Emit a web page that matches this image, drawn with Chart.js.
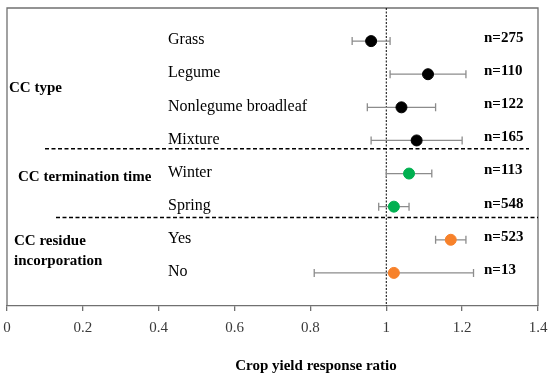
<!DOCTYPE html>
<html>
<head>
<meta charset="utf-8">
<script src="https://cdn.jsdelivr.net/npm/chart.js@4"></script>
<style>
  body { margin: 0; background: #fff; }
</style>
</head>
<body>
<canvas id="chart" width="550" height="379"></canvas>
<script>
// ---- data ----
const categories = ['Grass', 'Legume', 'Nonlegume broadleaf', 'Mixture', 'Winter', 'Spring', 'Yes', 'No'];
const ratios     = [0.96, 1.11, 1.04, 1.08, 1.06, 1.02, 1.17, 1.02];
const lowerCI    = [0.91, 1.01, 0.95, 0.96, 1.00, 0.98, 1.13, 0.81];
const upperCI    = [1.01, 1.21, 1.13, 1.20, 1.12, 1.06, 1.21, 1.23];
const counts     = [275, 110, 122, 165, 113, 548, 523, 13];
const groupOf    = [0, 0, 0, 0, 1, 1, 2, 2];
const groupNames = ['CC type', 'CC termination time', 'CC residue incorporation'];
const xTicks     = [0, 0.2, 0.4, 0.6, 0.8, 1, 1.2, 1.4];

const groupColors = ['#000000', '#00b050', '#f7812a'];
const serif = '"Liberation Serif", "Times New Roman", serif';

// error bars under the points
const errorBars = {
    id: 'errorBars',
    beforeDatasetsDraw(chart) {
        const ctx = chart.ctx, xs = chart.scales.x, ys = chart.scales.y;
        ctx.save();
        ctx.strokeStyle = '#8c8c8c';
        ctx.lineWidth = 1.3;
        categories.forEach((c, i) => {
            const y = ys.getPixelForValue(i);
            const x1 = xs.getPixelForValue(lowerCI[i]);
            const x2 = xs.getPixelForValue(upperCI[i]);
            ctx.beginPath();
            ctx.moveTo(x1, y); ctx.lineTo(x2, y);
            ctx.moveTo(x1, y - 4); ctx.lineTo(x1, y + 4);
            ctx.moveTo(x2, y - 4); ctx.lineTo(x2, y + 4);
            ctx.stroke();
        });
        ctx.restore();
    }
};

// frame, reference line, separators and all the text
const decorations = {
    id: 'decorations',
    beforeDatasetsDraw(chart) {
        const ctx = chart.ctx, a = chart.chartArea, xs = chart.scales.x, ys = chart.scales.y;
        ctx.save();
        // box
        ctx.strokeStyle = '#707070';
        ctx.lineWidth = 1.3;
        ctx.beginPath();
        ctx.moveTo(a.left, a.bottom);
        ctx.lineTo(a.left, a.top);
        ctx.lineTo(a.right, a.top);
        ctx.lineTo(a.right, a.bottom);
        ctx.stroke();

        // dotted line at ratio = 1
        const x1 = xs.getPixelForValue(1);
        ctx.strokeStyle = '#000';
        ctx.lineWidth = 1;
        ctx.setLineDash([2, 1.5]);
        ctx.beginPath();
        ctx.moveTo(x1, a.top); ctx.lineTo(x1, a.bottom);
        ctx.stroke();

        // group separators
        ctx.lineWidth = 1.5;
        ctx.setLineDash([4, 2.5]);
        const sep1 = ys.getPixelForValue(3.25);
        const sep2 = ys.getPixelForValue(5.33);
        ctx.beginPath();
        ctx.moveTo(45, sep1); ctx.lineTo(a.right - 9, sep1);
        ctx.moveTo(56, sep2); ctx.lineTo(a.right, sep2);
        ctx.stroke();
        ctx.restore();
    },
    afterDraw(chart) {
        const ctx = chart.ctx, ys = chart.scales.y;
        ctx.save();
        ctx.fillStyle = '#000';
        ctx.textBaseline = 'middle';
        ctx.textAlign = 'left';

        ctx.font = '16px ' + serif;
        categories.forEach((c, i) => {
            ctx.fillText(c, 168, ys.getPixelForValue(i) - 1);
        });

        ctx.font = 'bold 15px ' + serif;
        counts.forEach((n, i) => {
            ctx.fillText('n=' + n, 484, ys.getPixelForValue(i) - 3);
        });

        ctx.fillText(groupNames[0], 9, ys.getPixelForValue(1.42));
        ctx.fillText(groupNames[1], 18, ys.getPixelForValue(4.12));
        ctx.fillText('CC residue', 14, ys.getPixelForValue(6.03));
        ctx.fillText('incorporation', 14, ys.getPixelForValue(6.63));

        ctx.textAlign = 'center';
        ctx.fillText('Crop yield response ratio', 316, 366);
        ctx.restore();
    }
};

new Chart(document.getElementById('chart'), {
    type: 'scatter',
    data: {
        datasets: [{
            data: ratios.map((r, i) => ({ x: r, y: i })),
            backgroundColor: groupOf.map(g => groupColors[g]),
            borderColor: groupOf.map(g => groupColors[g]),
            pointRadius: 5.5,
            pointHoverRadius: 5.5
        }]
    },
    options: {
        responsive: false,
        animation: false,
        layout: { padding: { left: 7, right: 12, top: 8, bottom: 0 } },
        plugins: {
            legend: { display: false },
            tooltip: { enabled: false }
        },
        scales: {
            x: {
                type: 'linear',
                min: 0,
                max: 1.4,
                afterBuildTicks(scale) {
                    scale.ticks = xTicks.map(v => ({ value: v }));
                },
                afterFit(scale) {
                    scale.height = 73;
                    scale.paddingLeft = 0;
                    scale.paddingRight = 0;
                },
                border: { display: true, color: '#707070', width: 1.3 },
                grid: { drawOnChartArea: false, drawTicks: true, tickLength: 5, color: '#707070', lineWidth: 1.3 },
                ticks: {
                    padding: 8,
                    maxRotation: 0,
                    color: '#3a3a3a',
                    font: { family: serif, size: 15 },
                    callback: v => String(v)
                }
            },
            y: {
                type: 'linear',
                min: -1,
                max: 8,
                reverse: true,
                display: false
            }
        }
    },
    plugins: [decorations, errorBars]
});
</script>
</body>
</html>
